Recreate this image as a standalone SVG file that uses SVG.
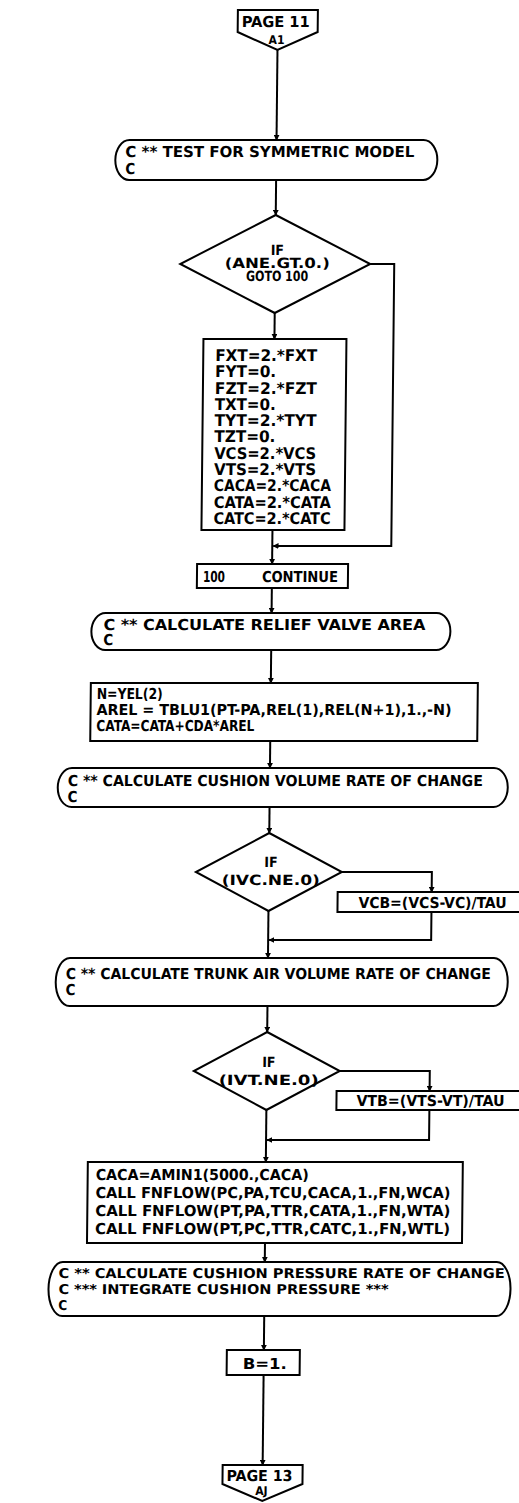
<svg xmlns="http://www.w3.org/2000/svg" width="519" height="1503" viewBox="0 0 519 1503">
<defs>
<marker id="ah" viewBox="0 0 8 8" refX="7" refY="4" markerWidth="6" markerHeight="6" orient="auto" markerUnits="userSpaceOnUse"><path d="M0,0 L8,4 L0,8 z" fill="#000"/></marker>
</defs>
<style>
.s{fill:#fff;stroke:#000;stroke-width:2}
.c{fill:none;stroke:#000;stroke-width:2;marker-end:url(#ah)}
text{font-family:"DejaVu Sans Condensed","Liberation Sans",sans-serif;font-weight:bold;font-size:15px;fill:#000}
.m{text-anchor:middle}
.b{font-size:16px}
.d{font-size:14px}
.p{font-size:13.5px}
</style>
<rect width="519" height="1503" fill="#fff"/>
<g transform="skewX(-0.6)">
<g id="connectors">
<path class="c" d="M278,50 V140"/>
<path class="c" d="M278,180 V215"/>
<path class="c" d="M278,313 V339"/>
<path class="c" d="M373,264 H397 V546 H279"/>
<path class="c" d="M278,530 V564"/>
<path class="c" d="M278,588 V613"/>
<path class="c" d="M278,650 V683"/>
<path class="c" d="M278,741 V768"/>
<path class="c" d="M278,807 V833"/>
<path class="c" d="M278,911 V958"/>
<path class="c" d="M351,872 H441 V892"/>
<path class="c" d="M441,912 V940 H279"/>
<path class="c" d="M278,1006 V1032"/>
<path class="c" d="M278,1110 V1162"/>
<path class="c" d="M351,1071 H441 V1091"/>
<path class="c" d="M441,1110 V1140 H279"/>
<path class="c" d="M278,1243 V1262"/>
<path class="c" d="M278,1316 V1350"/>
<path class="c" d="M278,1375 V1465"/>
</g>
<g id="page11">
<path class="s" d="M238,10 H318 V32 L278,50 L238,32 Z"/>
<text x="242" y="27" textLength="68" lengthAdjust="spacingAndGlyphs">PAGE 11</text>
<text x="277" y="44" class="m" style="font-size:12px">A1</text>
</g>
<g id="test">
<rect class="s" x="117" y="140" width="322" height="40" rx="14" ry="20"/>
<text x="127" y="157" textLength="289" lengthAdjust="spacingAndGlyphs">C ** TEST FOR SYMMETRIC MODEL</text>
<text x="127" y="174">C</text>
</g>
<g id="if1">
<polygon class="s" points="278,215 373,264 278,313 183,264"/>
<text x="280" y="255" class="m d">IF</text>
<text x="280" y="268" class="m d" textLength="105" lengthAdjust="spacingAndGlyphs">(ANE.GT.0.)</text>
<text x="280" y="281" class="m d" textLength="62" lengthAdjust="spacingAndGlyphs">GOTO 100</text>
</g>
<g id="assign">
<rect class="s" x="207" y="339" width="143" height="191"/>
<text class="b" x="219" y="361" textLength="102" lengthAdjust="spacingAndGlyphs">FXT=2.*FXT</text>
<text class="b" x="219" y="377.3" textLength="61" lengthAdjust="spacingAndGlyphs">FYT=0.</text>
<text class="b" x="219" y="393.6" textLength="102" lengthAdjust="spacingAndGlyphs">FZT=2.*FZT</text>
<text class="b" x="219" y="409.9" textLength="61" lengthAdjust="spacingAndGlyphs">TXT=0.</text>
<text class="b" x="219" y="426.2" textLength="102" lengthAdjust="spacingAndGlyphs">TYT=2.*TYT</text>
<text class="b" x="219" y="442.5" textLength="61" lengthAdjust="spacingAndGlyphs">TZT=0.</text>
<text class="b" x="219" y="458.8" textLength="102" lengthAdjust="spacingAndGlyphs">VCS=2.*VCS</text>
<text class="b" x="219" y="475.1" textLength="102" lengthAdjust="spacingAndGlyphs">VTS=2.*VTS</text>
<text class="b" x="219" y="491.4" textLength="117" lengthAdjust="spacingAndGlyphs">CACA=2.*CACA</text>
<text class="b" x="219" y="507.7" textLength="117" lengthAdjust="spacingAndGlyphs">CATA=2.*CATA</text>
<text class="b" x="219" y="524" textLength="117" lengthAdjust="spacingAndGlyphs">CATC=2.*CATC</text>
</g>
<g id="cont100">
<rect class="s" x="203" y="564" width="151" height="24"/>
<text x="209" y="582" textLength="22" lengthAdjust="spacingAndGlyphs">100</text>
<text x="268" y="582" textLength="76" lengthAdjust="spacingAndGlyphs">CONTINUE</text>
</g>
<g id="relief">
<rect class="s" x="98" y="613" width="359" height="37" rx="14" ry="18.5"/>
<text x="110" y="630" textLength="322" lengthAdjust="spacingAndGlyphs">C ** CALCULATE RELIEF VALVE AREA</text>
<text x="110" y="645">C</text>
</g>
<g id="arel">
<rect class="s" x="98" y="683" width="387" height="58"/>
<text x="104" y="699" textLength="66" lengthAdjust="spacingAndGlyphs">N=YEL(2)</text>
<text x="104" y="715" textLength="355" lengthAdjust="spacingAndGlyphs">AREL = TBLU1(PT-PA,REL(1),REL(N+1),1.,-N)</text>
<text x="104" y="731" textLength="158" lengthAdjust="spacingAndGlyphs">CATA=CATA+CDA*AREL</text>
</g>
<g id="cushvol">
<rect class="s" x="66" y="768" width="450" height="39" rx="14" ry="19.5"/>
<text x="76" y="786" textLength="415" lengthAdjust="spacingAndGlyphs">C ** CALCULATE CUSHION VOLUME RATE OF CHANGE</text>
<text x="76" y="802">C</text>
</g>
<g id="if2">
<polygon class="s" points="278,833 351,872 278,911 205,872"/>
<text x="280" y="867" class="m d">IF</text>
<text x="280" y="885" class="m d" textLength="98" lengthAdjust="spacingAndGlyphs">(IVC.NE.0)</text>
</g>
<g id="vcb">
<rect class="s" x="347" y="892" width="200" height="20"/>
<text x="368" y="908" textLength="148" lengthAdjust="spacingAndGlyphs">VCB=(VCS-VC)/TAU</text>
</g>
<g id="trunk">
<rect class="s" x="66" y="958" width="452" height="48" rx="14" ry="24"/>
<text x="76" y="979" textLength="425" lengthAdjust="spacingAndGlyphs">C ** CALCULATE TRUNK AIR VOLUME RATE OF CHANGE</text>
<text x="76" y="995">C</text>
</g>
<g id="if3">
<polygon class="s" points="278,1032 351,1071 278,1110 205,1071"/>
<text x="280" y="1067" class="m d">IF</text>
<text x="280" y="1085" class="m d" textLength="100" lengthAdjust="spacingAndGlyphs">(IVT.NE.0)</text>
</g>
<g id="vtb">
<rect class="s" x="348" y="1091" width="200" height="19"/>
<text x="368" y="1106" textLength="148" lengthAdjust="spacingAndGlyphs">VTB=(VTS-VT)/TAU</text>
</g>
<g id="flow">
<rect class="s" x="100" y="1162" width="375" height="81"/>
<text x="108" y="1180" textLength="213" lengthAdjust="spacingAndGlyphs">CACA=AMIN1(5000.,CACA)</text>
<text x="108" y="1198" textLength="355" lengthAdjust="spacingAndGlyphs">CALL FNFLOW(PC,PA,TCU,CACA,1.,FN,WCA)</text>
<text x="108" y="1216" textLength="355" lengthAdjust="spacingAndGlyphs">CALL FNFLOW(PT,PA,TTR,CATA,1.,FN,WTA)</text>
<text x="108" y="1234" textLength="355" lengthAdjust="spacingAndGlyphs">CALL FNFLOW(PT,PC,TTR,CATC,1.,FN,WTL)</text>
</g>
<g id="pressure">
<rect class="s" x="62" y="1262" width="462" height="54" rx="14" ry="27"/>
<text x="72" y="1278" class="p" textLength="446" lengthAdjust="spacingAndGlyphs">C ** CALCULATE CUSHION PRESSURE RATE OF CHANGE</text>
<text x="72" y="1294" class="p" textLength="330" lengthAdjust="spacingAndGlyphs">C *** INTEGRATE CUSHION PRESSURE ***</text>
<text x="72" y="1310" class="p">C</text>
</g>
<g id="b1">
<rect class="s" x="241" y="1350" width="73" height="25"/>
<text x="279" y="1369" class="m" textLength="44" lengthAdjust="spacingAndGlyphs">B=1.</text>
</g>
<g id="page13">
<path class="s" d="M238,1465 H318 V1484 L278,1501 L238,1484 Z"/>
<text x="242" y="1481" textLength="66" lengthAdjust="spacingAndGlyphs">PAGE 13</text>
<text x="277" y="1495" class="m" style="font-size:12px">AJ</text>
</g>
</g>
</svg>
